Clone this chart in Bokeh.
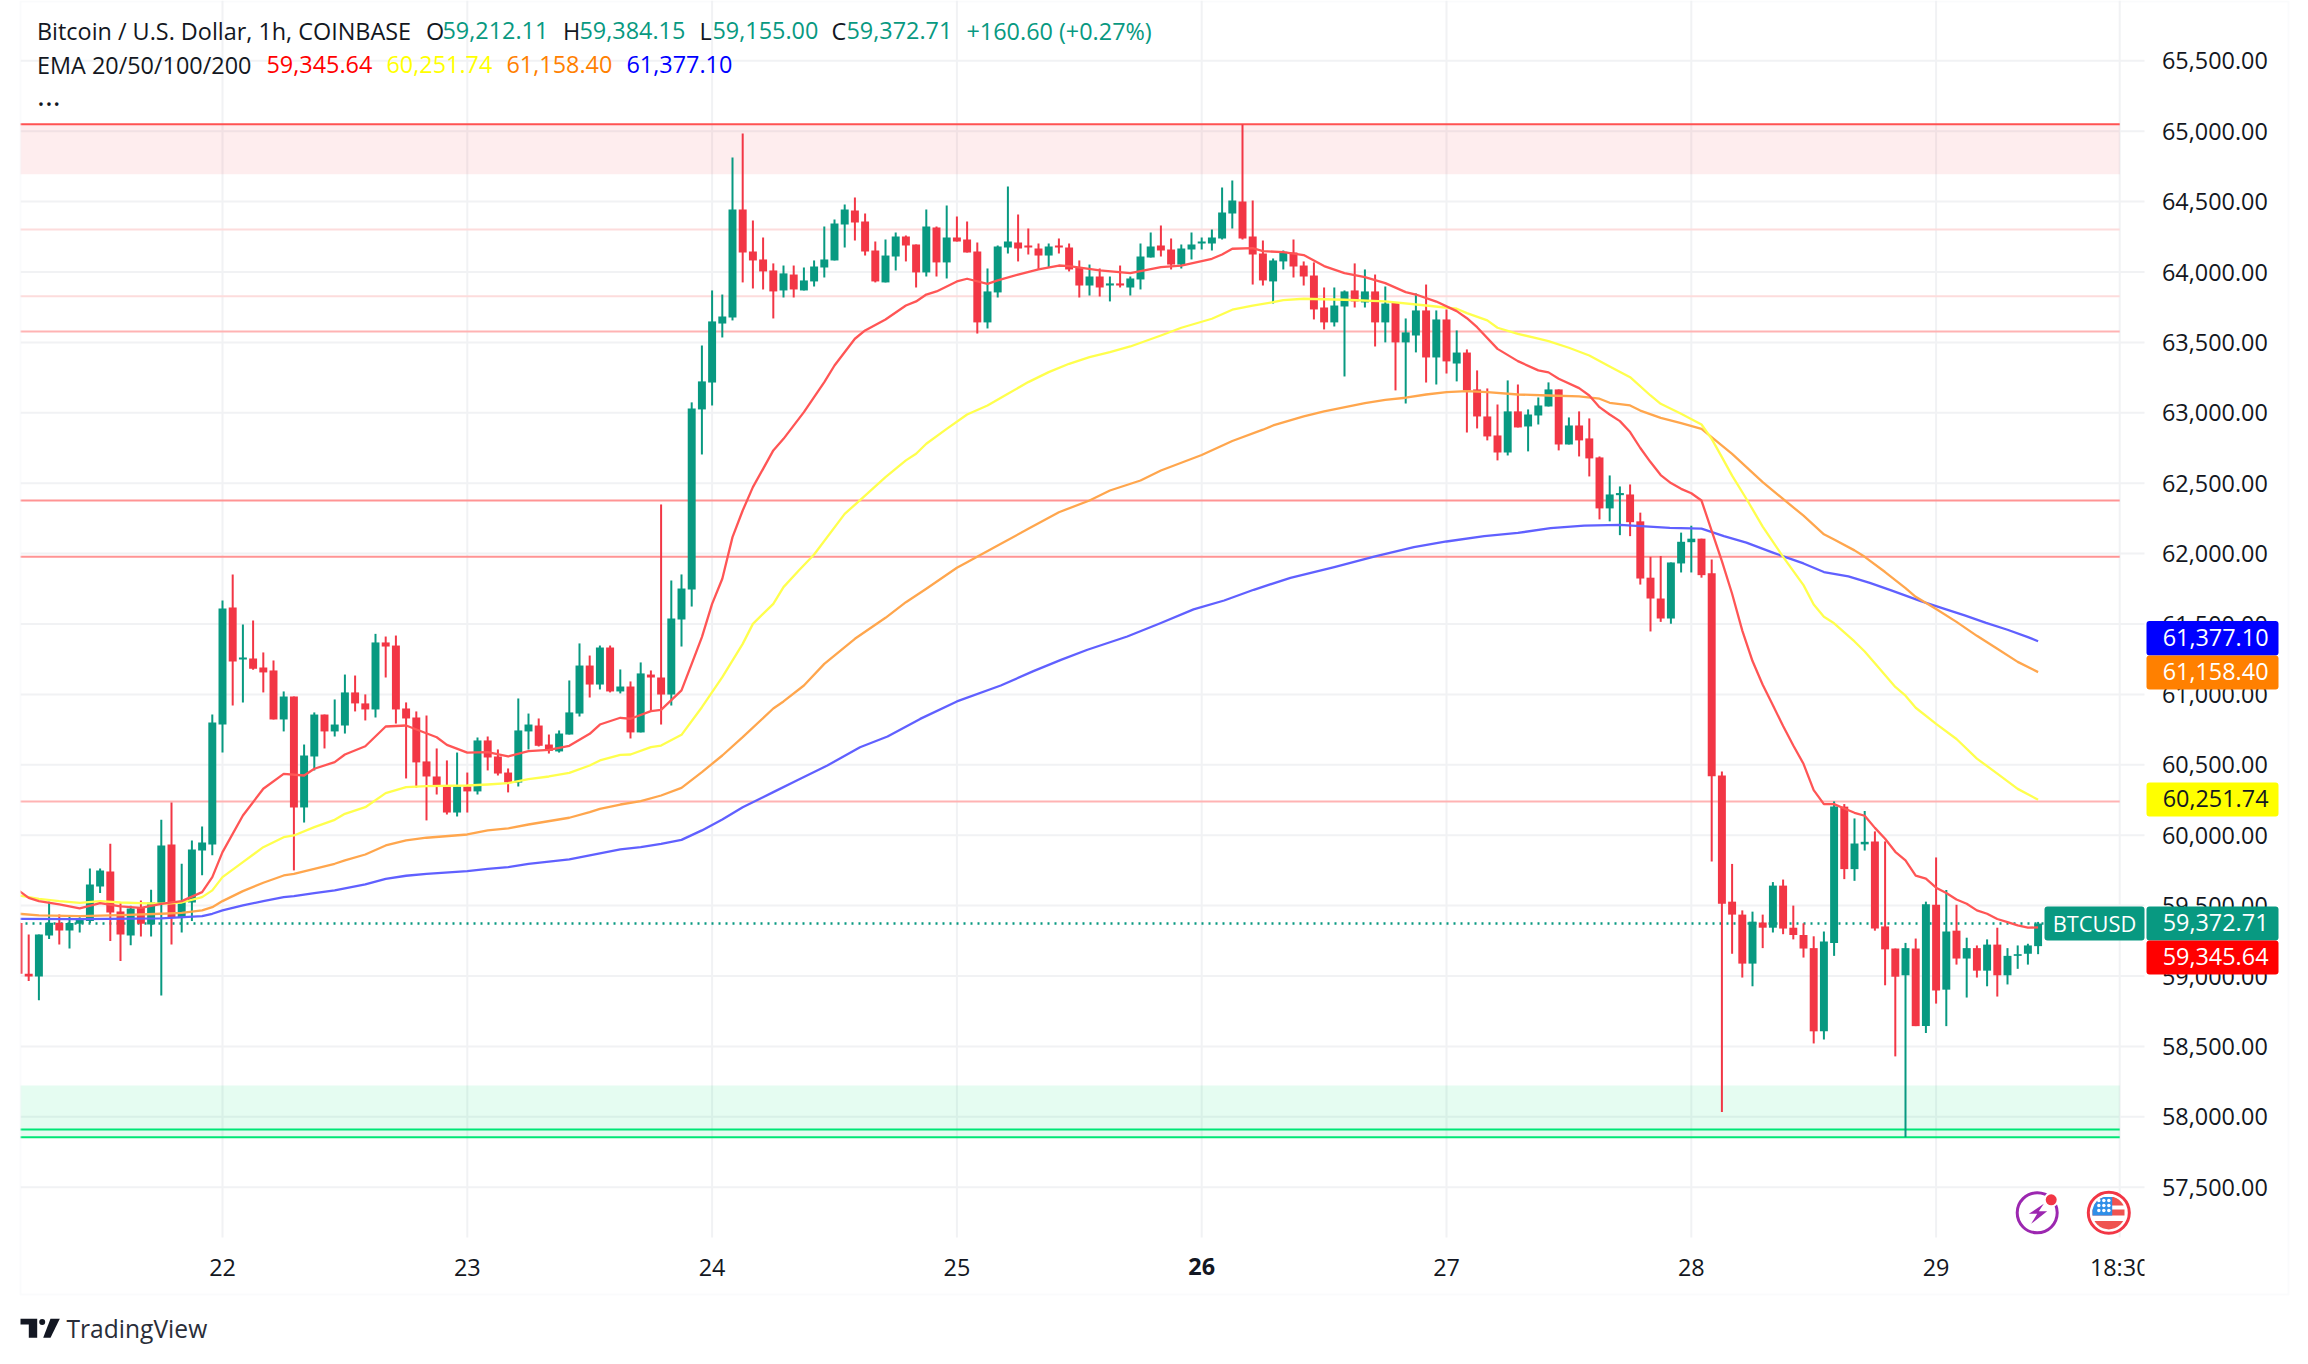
import numpy as np
from bokeh.plotting import figure
from bokeh.models import (FixedTicker, Label, BoxAnnotation, NumeralTickFormatter,
                          ColumnDataSource, LinearAxis)
from bokeh.embed import file_html
from bokeh.resources import INLINE

# ---------- data ----------
hours = list(range(-20, 179))   # hours since 22 00:00
opens = [59376,59016,58997,59288,59378,59324,59371,59390,59636,59743,59458,59288,59484,59366,59513,59934,59413,59522,59892,59934,
 60786,61617,61248,61255,61191,61170,60822,60985,60197,60559,60857,60737,60779,61014,60936,60893,61369,61347,60900,60836,
 60524,60417,60353,60161,60346,60311,60673,60559,60445,60374,60737,60779,60644,60595,60715,60864,61205,61070,61333,61021,
 61056,60730,61141,61120,60999,61532,61745,63024,63215,63634,63677,64444,64146,64089,64011,63869,63982,63869,63933,64032,
 64082,64337,64437,64359,64153,63926,64110,64252,64195,63997,64316,64068,64245,64231,64146,63642,63855,64174,64210,64188,
 64167,64117,64188,64174,64032,63904,63968,63904,63919,63890,63947,64103,64188,64160,64053,64160,64203,64203,64238,64416,
 64501,64252,64131,63933,64075,64139,64046,63975,63748,63642,63755,63869,63784,63862,63642,63784,63500,63549,63727,63393,
 63663,63350,63428,63166,62974,62839,62718,63010,62903,62981,63045,63166,62775,62910,62818,62683,62321,62415,62420,62229,
 61829,61681,61539,61930,62081,62106,61860,60424,59528,59436,59088,59380,59343,59642,59343,59291,59198,58607,59235,60203,
 59759,59935,59956,59352,59195,59005,59195,58644,59506,58903,59322,59124,59198,59038,59223,59005,59143,59158,59212.11]
highs = [59376,59295,59295,59527,59437,59423,59418,59764,59764,59939,59522,59499,59537,59612,60109,60233,59797,59963,60062,60857,
 61667,61852,61496,61525,61298,61241,61021,60985,60644,60872,60857,60964,61141,61134,61000,61430,61411,61418,60943,60879,
 60850,60616,60531,60587,60445,60694,60701,60609,60474,60971,60864,60829,60715,60744,61099,61362,61276,61347,61347,61177,
 61092,61227,61170,62349,61809,61852,63074,63478,63869,63840,64813,64984,64366,64245,64061,64046,64046,64032,64082,64323,
 64373,64480,64529,64416,64217,64231,64281,64259,64195,64444,64323,64472,64394,64359,64210,64025,64188,64607,64408,64309,
 64203,64203,64238,64203,64082,64053,64025,63968,64046,63968,64203,64281,64330,64238,64195,64281,64245,64302,64600,64650,
 65048,64508,64224,64096,64153,64231,64075,64068,63890,63890,63869,64061,64018,63982,63897,63784,63670,63848,63911,63727,
 63734,63585,63450,63301,63173,63059,63230,63201,63024,63109,63216,63166,62967,63010,62960,62690,62555,62477,62491,62291,
 61977,61983,61937,62149,62198,62106,61958,60452,59796,59466,59457,59436,59667,59685,59500,59374,59282,59316,60240,60221,
 60119,60172,60027,59956,59195,59235,59266,59528,59842,59611,59506,59272,59217,59260,59343,59198,59217,59229,59384.15]
lows = [59016,58964,58827,59262,59224,59196,59309,59376,59589,59248,59106,59219,59281,59281,58862,59224,59309,59390,59716,59858,
 60588,60921,60943,61175,61014,60822,60737,59750,60090,60460,60616,60701,60722,60879,60815,60836,61120,60793,60403,60339,
 60105,60289,60147,60133,60161,60289,60460,60424,60304,60346,60609,60630,60580,60587,60715,60843,60978,61035,61014,61007,
 60687,60730,60879,60786,60921,61340,61624,62704,63052,63535,63656,63926,63883,63876,63670,63819,63819,63869,63897,63961,
 64082,64174,64224,64117,63926,63926,64011,64075,63890,63968,63968,63954,64217,64139,63563,63599,63819,64131,64075,64124,
 64018,64032,64131,64004,63819,63833,63826,63791,63890,63833,63876,64103,64110,64018,64025,64089,64160,64153,64231,64309,
 64231,63911,63904,63776,64018,63961,63904,63663,63592,63613,63258,63748,63748,63471,63500,63159,63066,63429,63215,63201,
 63279,63223,62860,62889,62804,62662,62697,62896,62726,62917,63045,62733,62775,62690,62548,62243,62229,62131,62124,61780,
 61447,61515,61502,61866,61866,61829,59814,58034,59158,58989,58927,59198,59309,59297,59260,59131,58521,58549,59143,59688,
 59676,59891,59322,58934,58429,57856,58644,58595,58804,58644,59081,58847,58989,58927,58854,58940,59051,59081,59155]
closes = [59016,58997,59295,59378,59324,59376,59399,59650,59750,59451,59295,59480,59371,59522,59927,59413,59527,59899,59948,60801,
 61610,61234,61262,61182,61156,60822,60985,60197,60566,60857,60737,60786,61014,60936,60893,61369,61340,60893,60829,60517,
 60417,60346,60161,60346,60311,60673,60552,60438,60374,60744,60786,60635,60599,60722,60872,61205,61070,61333,61021,61056,
 60730,61149,61120,60999,61539,61752,63031,63223,63649,63684,64444,64139,64082,64004,63862,63990,63876,63940,64039,64089,
 64345,64444,64352,64146,63933,64117,64252,64188,63997,64323,64068,64245,64217,64139,63642,63862,64181,64217,64167,64174,
 64117,64181,64174,64018,63904,63968,63890,63919,63904,63954,64110,64181,64153,64053,64167,64195,64217,64245,64423,64508,
 64238,64124,63940,64082,64143,64039,63968,63734,63642,63762,63862,63791,63862,63642,63776,63500,63571,63727,63393,63663,
 63365,63428,63159,62974,62832,62718,63010,62896,62988,63052,63166,62775,62910,62804,62676,62321,62420,62430,62223,61823,
 61681,61539,61937,62084,62106,61847,60418,59513,59436,59088,59386,59343,59642,59337,59291,59195,58607,59245,60203,59759,
 59941,59953,59337,59189,58995,59198,58644,59510,58897,59316,59124,59198,59038,59223,59005,59143,59155,59217,59372.71]

ema20_h = [-20,-19,-18,-16,-14,-12,-10,-8,-6,-4,-2,-1,0,2,4,6,8,9,11,12,14,16,18,21,22,24,26,28,30,32,34,36,37,39,40,42,43,45,46,47,48,49,50,51,52,53,54,55,57,59,60,62,63,65,67,68,69,70,72,73,75,76,78,80,82,83,86,89,92,94,97,98,99,101,102,104,106,108,110,112,114,116,117,119,121,122,123,125,127,129,130,131,133,134,135,136,137,138,139,140,141,142,143,144,145,146,147,148,149,150,151,152,153,154,155,156,157,158,159,160,161,162,163,164,165,166,167,168,169,170,171,172,173,174,175,176,177,178]
ema20_v = [59608,59555,59532,59508,59480,59518,59494,59484,59513,59532,59596,59702,59880,60140,60330,60436,60424,60472,60519,60573,60632,60772,60779,60696,60642,60587,60590,60559,60597,60606,60635,60720,60786,60834,60827,60881,60890,61028,61217,61407,61643,61821,62117,62306,62472,62602,62733,62815,63005,63218,63336,63526,63585,63663,63762,63791,63840,63862,63933,63952,63916,63940,63982,64018,64046,64042,64011,63992,64035,64046,64094,64124,64165,64169,64148,64141,64120,64042,63992,63964,63921,63857,63840,63790,63722,63672,63608,63454,63367,63301,63287,63242,63175,63123,63040,62988,62941,62863,62750,62650,62558,62501,62460,62429,62377,62161,61946,61715,61453,61237,61068,60923,60775,60637,60507,60320,60221,60221,60190,60159,60138,60052,59975,59882,59821,59713,59691,59627,59590,59543,59513,59466,59442,59405,59383,59359,59343,59345.64]
ema50_h = [-20,-18,-16,-14,-12,-10,-8,-6,-4,-2,-1,0,2,4,6,7,9,11,12,14,16,18,20,24,26,28,30,32,34,36,37,39,40,42,43,45,47,49,51,52,54,55,56.5,58,61,63,65,67,68,69,71,73,75,77,79,81,83,85,87,89,92,94,97,99,101,103,104,106,110,114,118,121,122,124,125,127,129,130,132,134,136,138,140,141,142,143,145,146,147,148,149.5,151,153,155,156,157,158,160,161,162,164,165,166,168,170,172,174,176,178]
ema50_v = [59572,59548,59532,59520,59532,59522,59518,59513,59522,59560,59608,59702,59809,59915,59986,59998,60057,60109,60152,60199,60299,60341,60349,60353,60360,60370,60398,60417,60443,60495,60531,60571,60573,60625,60637,60713,60909,61122,61359,61501,61643,61762,61880,61994,62282,62412,62543,62662,62709,62780,62886,62988,63052,63135,63218,63289,63348,63395,63431,63471,63549,63604,63668,63732,63762,63786,63800,63810,63803,63791,63762,63739,63708,63656,63604,63561,63526,63509,63462,63407,63329,63253,63123,63064,63029,62993,62917,62815,62685,62554,62377,62192,61977,61776,61638,61552,61505,61376,61305,61222,61053,60991,60905,60791,60683,60544,60437,60329,60251.74]
ema100_h = [-20,-18,-14,-10,-6,-4,-2,-1,0,2,4,6,7,9,11,12,14,16,18,20,24,26,28,30,34,36,37,39,41,43,45,47,49,51,54,55,57,59,62,65,67,69,72,73,76,79,82,85,87,90,92,96,99,102,103,106,108,112,114,116,118,120,122,124,127,130,133,135,136,138,139,141,143,145,148,151,155,157,158,160,161,163,165,166,168,170,172,174,176,178]
ema100_v = [59442,59430,59425,59432,59442,59449,59466,59489,59532,59603,59662,59714,59726,59761,59797,59821,59863,59927,59963,59982,60005,60034,60048,60076,60124,60164,60187,60218,60242,60282,60336,60448,60566,60696,60900,60950,61063,61217,61395,61544,61655,61750,61899,61939,62057,62176,62294,62377,62448,62519,62590,62700,62800,62880,62910,62974,63010,63069,63092,63107,63130,63147,63154,63147,63130,63123,63116,63100,63071,63052,63016,62964,62926,62886,62708,62507,62269,62137,62100,62023,61977,61869,61755,61693,61607,61515,61416,61324,61231,61158.40]
ema200_h = [-20,-14,-6,-2,-1,0,2,4,6,7,9,11,14,16,18,20,24,26,28,30,34,36,39,41,43,45,47,49,51,54,56.3,59.3,62.5,65.2,68.4,72,76.3,79.5,82.2,84.8,88.7,92,95.2,98.2,101.1,104.7,109,112.9,116.8,120,123.7,127,130.2,133.5,137,141.9,145,147.2,149.4,152,155,157,159.4,161.5,163.6,166.5,168.6,170.8,172.9,175,177,178]
ema200_v = [59406,59404,59409,59425,59442,59466,59501,59532,59560,59567,59589,59608,59650,59690,59712,59726,59745,59761,59773,59797,59828,59856,59899,59915,59939,59967,60034,60112,60199,60306,60389,60495,60625,60701,60826,60950,61063,61165,61245,61317,61411,61507,61604,61667,61743,61828,61904,61979,62046,62086,62124,62147,62181,62199,62204,62183,62177,62124,62078,62007,61930,61869,61838,61792,61739,61662,61613,61561,61508,61459,61407,61377.10]

price_ticks = [57500,58000,58500,59000,59500,60000,60500,61000,61500,62000,62500,63000,63500,64000,64500,65000,65500]
day_ticks = [0,24,48,72,96,120,144,168]
day_labels = ["22","23","24","25","26","27","28","29"]
end_tick = 186
end_label = "18:30"

res_levels = [65050,64302,63828,63578,62377,61978,60240]
res_colors = ["#ff5252","#fddcdc","#fddcdc","#ffb3b3","#ff9494","#ff9494","#ffb3b3"]
sup_levels = [57910,57855]
res_zone = (64695,65050)
sup_zone = (57855,58222)
last_close = 59372.71
ema_values = ["59,345.64","60,251.74","61,158.40","61,377.10"]
ema_colors = ["#ff0000","#ffff00","#ff8000","#0000ff"]

GREEN, RED, INK = "#089981", "#f23645", "#131722"
FONT = "Open Sans"
FS = "23.4px"

# ---------- pixel helpers for layout and decorations ----------
W, H = 2300, 1350
hx = lambda px: (px - 222) / 10.2
vy = lambda py: 65000 - (py - 130.7) / 0.1408

p = figure(width=W, height=H, frame_width=W, frame_height=H, output_backend="svg", toolbar_location=None,
           x_range=(hx(0), hx(W)), y_range=(vy(H), vy(0)),
           x_axis_location=None, y_axis_location=None,
           min_border=0, background_fill_color="white", border_fill_color="white", outline_line_color=None)
p.grid.visible = False

# The axes sit in zero-height side panels and reach back into the canvas via fixed locations
ax = LinearAxis(fixed_location=vy(1275))
ax.ticker = FixedTicker(ticks=day_ticks + [end_tick])
over = {t: l for t, l in zip(day_ticks, day_labels)}
over[96] = " "
over[end_tick] = end_label
ax.major_label_overrides = over
ax.axis_line_color = None
ax.major_tick_line_color = None
ax.major_tick_out = 0
ax.major_tick_in = 0
ax.minor_tick_line_color = None
ax.major_label_standoff = -25
ax.major_label_text_font = FONT
ax.major_label_text_font_size = FS
ax.major_label_text_color = INK
p.add_layout(ax, "below")

ay = LinearAxis(fixed_location=hx(2261.5))
ay.ticker = FixedTicker(ticks=price_ticks)
ay.formatter = NumeralTickFormatter(format="0,0.00")
ay.axis_line_color = None
ay.major_tick_line_color = None
ay.major_tick_out = 0
ay.major_tick_in = 0
ay.minor_tick_line_color = None
ay.major_label_standoff = -100
ay.major_label_text_font = FONT
ay.major_label_text_font_size = FS
ay.major_label_text_color = INK
p.add_layout(ay, "right")

# grid, bounded to the pane
GRID = "#f1f2f4"
p.segment(x0=[hx(20)] * len(price_ticks), x1=[hx(2144)] * len(price_ticks), y0=price_ticks, y1=price_ticks,
          line_color=GRID, line_width=2)
grid_x = day_ticks + [end_tick]
p.segment(x0=grid_x, x1=grid_x, y0=[vy(1237)] * len(grid_x), y1=[vy(0)] * len(grid_x), line_color=GRID, line_width=2)

# zones and levels
p.quad(left=-20, right=end_tick, bottom=res_zone[0], top=res_zone[1], fill_color=RED, fill_alpha=0.09, line_color=None)
p.quad(left=-20, right=end_tick, bottom=sup_zone[0], top=sup_zone[1], fill_color="#00e676", fill_alpha=0.1, line_color=None)
for lvl, c in zip(res_levels, res_colors):
    p.line([-20, end_tick], [lvl, lvl], line_color=c, line_width=2)
for lvl in sup_levels:
    p.line([-20, end_tick], [lvl, lvl], line_color="#00e676", line_width=2)
p.line([-20, hx(2144)], [last_close, last_close], line_color=GREEN, line_width=2.4, line_dash=[2, 5])

# candles
colors = [GREEN if c >= o else RED for o, c in zip(opens, closes)]
src = ColumnDataSource(dict(h=hours, o=opens, hi=highs, lo=lows, c=closes, col=colors,
                            top=[max(a, b) for a, b in zip(opens, closes)],
                            bot=[min(a, b) for a, b in zip(opens, closes)]))
p.segment(x0="h", y0="lo", x1="h", y1="hi", line_color="col", line_width=2, source=src)
p.vbar(x="h", bottom="bot", top="top", width=0.78, fill_color="col", line_color=None, source=src)

# EMAs
for xs, ys, c in [(ema200_h, ema200_v, "#6060ff"), (ema100_h, ema100_v, "#ffa64d"),
                  (ema50_h, ema50_v, "#ffff4d"), (ema20_h, ema20_v, "#ff5555")]:
    p.line(xs, ys, line_color=c, line_width=2.3, line_join="round")

# left-edge clip and pane border
p.add_layout(BoxAnnotation(left=hx(0), right=hx(20), top=vy(0), bottom=vy(1240), fill_color="white",
                           fill_alpha=1, line_color=None, level="annotation"))
p.add_layout(BoxAnnotation(left=hx(20), right=hx(2288), top=vy(1), bottom=vy(1294), fill_alpha=0,
                           line_color="#f0f1f5", line_width=2, level="annotation"))

def text(px, py, s, color=INK, size=FS, style="normal", align="left", base="middle"):
    p.add_layout(Label(x=hx(px), y=vy(py), text=s, text_color=color, text_font=FONT, text_font_size=size,
                       text_font_style=style, text_align=align, text_baseline=base, level="overlay"))

# header
text(36.5, 30, "Bitcoin / U.S. Dollar, 1h, COINBASE")
text(425.5, 30, "O"); text(442, 30, "59,212.11", GREEN)
text(562.5, 30, "H"); text(579, 30, "59,384.15", GREEN)
text(699, 30, "L"); text(712, 30, "59,155.00", GREEN)
text(831, 30, "C"); text(846, 30, "59,372.71", GREEN)
text(966, 30, "+160.60 (+0.27%)", GREEN)
text(36.5, 64, "EMA 20/50/100/200")
for px, s, c in zip([266, 386, 506, 626], ema_values, ema_colors):
    text(px, 64, s, c)
text(36.5, 95, "...", size="30px", base="alphabetic")

# bold day 26 and clipped end label
text(222 + 96 * 10.2, 1266, "26", style="bold", align="center")
p.add_layout(BoxAnnotation(left=hx(2144), right=hx(2151), top=vy(1246), bottom=vy(1290), fill_color="white",
                           fill_alpha=1, line_color=None, level="overlay"))

# price tags
def tag(s, bg, fg, top, bottom):
    p.add_layout(BoxAnnotation(left=hx(2146), right=hx(2278), top=vy(top), bottom=vy(bottom), fill_color=bg,
                               fill_alpha=1, line_color=None, border_radius=3, level="overlay"))
    text(2268, (top + bottom) / 2 - 1, s, fg, align="right")

tag(ema_values[3], ema_colors[3], "white", 620.5, 655)
tag(ema_values[2], ema_colors[2], "white", 655, 689)
tag(ema_values[1], ema_colors[1], INK, 782, 816)
tag("59,372.71", GREEN, "white", 906, 940)
tag(ema_values[0], ema_colors[0], "white", 940, 974)
p.add_layout(BoxAnnotation(left=hx(2044), right=hx(2144), top=vy(906), bottom=vy(940), fill_color=GREEN,
                           fill_alpha=1, line_color=None, border_radius=3, level="overlay"))
text(2094, 923, "BTCUSD", "#ffffff", size="21.8px", align="center")

# lightning icon
p.scatter([hx(2036.7)], [vy(1212.3)], size=40, marker="circle", fill_alpha=0, line_color="#9c27b0", line_width=3)
p.patch([hx(2000 + a / 3) for a in (130, 85, 110, 92, 140, 115)],
        [vy(1170 + b / 3) for b in (100, 130, 130, 160, 122, 122)], fill_color="#9c27b0", line_color=None)
p.scatter([hx(2050.7)], [vy(1199.3)], size=15, marker="circle", fill_color="white", line_color=None)
p.scatter([hx(2050.7)], [vy(1199.3)], size=11, marker="circle", fill_color=RED, line_color=None)

# flag icon
CX, CY, R = 2108.3, 1212.3, 16.5
p.scatter([hx(CX)], [vy(CY)], size=41, marker="circle", fill_color="white", line_color=RED, line_width=3)
def band(y0, y1, x0, x1, color):
    ys = np.linspace(y0, y1, 14)
    half = np.sqrt(np.maximum(R**2 - (ys - CY)**2, 0))
    xl = np.maximum(CX - half, x0)
    xr = np.minimum(CX + half, x1)
    p.patch([hx(a) for a in np.r_[xl, xr[::-1]]], [vy(b) for b in np.r_[ys, ys[::-1]]], fill_color=color, line_color=None)
band(1196.5, 1205, 2092, 2124, "#ef5350")
band(1209, 1215, 2092, 2124, "#ef5350")
band(1220.5, 1229, 2092, 2124, "#ef5350")
band(1196.5, 1215, 2092, 2111.7, "#2f8fe8")
p.scatter([hx(2000 + a / 3) for a in (295, 310, 325) for _ in range(3)],
          [vy(1170 + b / 3) for _ in range(3) for b in (90, 105, 120)], size=3.5, marker="circle", fill_color="white", line_color=None)

# TradingView logo
LOGO = "#131722"
for xs, ys in [([20, 36.7, 36.7, 28.3, 28.3, 20], [1318.3, 1318.3, 1337.3, 1337.3, 1324, 1324]),
               ([50, 59.3, 50, 42.7], [1318.3, 1318.3, 1337.3, 1337.3])]:
    p.patch([hx(a) for a in xs], [vy(b) for b in ys], fill_color=LOGO, line_color=None)
p.scatter([hx(41.7)], [vy(1321.5)], size=6, marker="circle", fill_color=LOGO, line_color=None)
text(66, 1328, "TradingView", "#2a2e39", size="24.6px")

open("out.html", "w").write(file_html(p, INLINE))
